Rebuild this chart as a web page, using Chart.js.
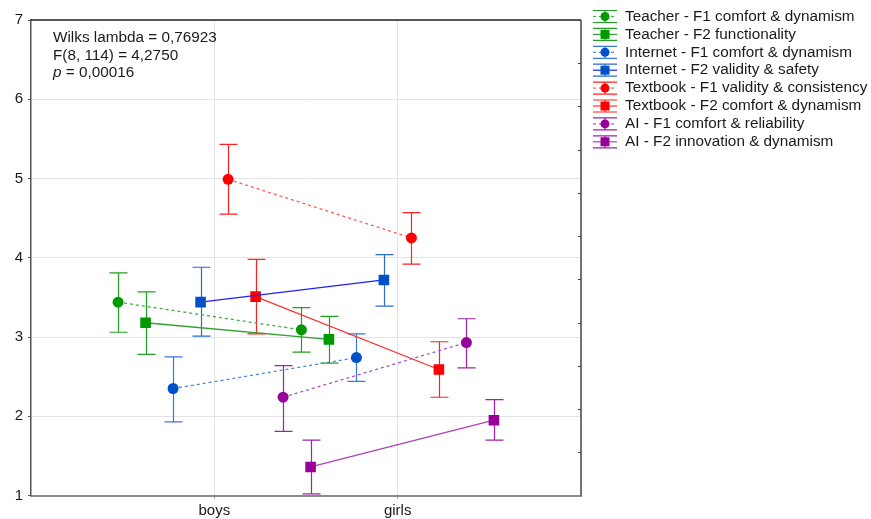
<!DOCTYPE html>
<html>
<head>
<meta charset="utf-8">
<script src="https://cdn.jsdelivr.net/npm/chart.js"></script>
<style>
  html, body { margin: 0; padding: 0; background: #fff; }
  .chart-box { width: 871px; height: 519px; position: relative; }
</style>
</head>
<body>
<div class="chart-box"><canvas id="myChart"></canvas></div>
<script>
const groups = ["boys", "girls"]
const seriesNames = [
  "Teacher - F1 comfort & dynamism",
  "Teacher - F2 functionality",
  "Internet - F1 comfort & dynamism",
  "Internet - F2 validity & safety",
  "Textbook - F1 validity & consistency",
  "Textbook - F2 comfort & dynamism",
  "AI - F1 comfort & reliability",
  "AI - F2 innovation & dynamism",
]
// means for boys / girls, with lower and upper 95% limits
const means = [
  [3.44, 3.09],
  [3.18, 2.97],
  [2.35, 2.74],
  [3.44, 3.72],
  [4.99, 4.25],
  [3.51, 2.59],
  [2.24, 2.93],
  [1.36, 1.95],
]
const lower = [
  [3.06, 2.81],
  [2.78, 2.67],
  [1.93, 2.44],
  [3.01, 3.39],
  [4.55, 3.92],
  [3.04, 2.24],
  [1.81, 2.61],
  [1.02, 1.70],
]
const upper = [
  [3.81, 3.37],
  [3.57, 3.26],
  [2.75, 3.04],
  [3.88, 4.04],
  [5.43, 4.57],
  [3.98, 2.94],
  [2.64, 3.23],
  [1.70, 2.21],
]
const yTicks = [1, 2, 3, 4, 5, 6, 7]
const statsLines = ["Wilks lambda = 0,76923", "F(8, 114) = 4,2750", "p = 0,00016"]

const markerColors = ["#009a00", "#009a00", "#0050c8", "#0050c8", "#ff0000", "#ff0000", "#990099", "#990099"]
const lineColors = ["#40b040", "#30a030", "#4a86e0", "#2020ff", "#ff5a5a", "#ff3030", "#b050c8", "#b040b8"]
const barColors = ["#20a020", "#20a020", "#3a78d8", "#2a6ad0", "#ff2020", "#ff2020", "#a020a8", "#a020a8"]

const FONT = "Arial, 'Liberation Sans', sans-serif"
const TEXT_SIZE = "15.3px "
const step = 0.15

const datasets = seriesNames.map((name, i) => {
  const isF1 = i % 2 === 0
  const off = (i - 3.5) * step
  return {
    label: name,
    data: means[i].map((v, g) => ({ x: g + 1 + off, y: v })),
    lower: lower[i],
    upper: upper[i],
    borderColor: lineColors[i],
    borderWidth: 1.3,
    borderDash: isF1 ? [3, 3] : [],
    backgroundColor: markerColors[i],
    pointBackgroundColor: markerColors[i],
    pointBorderColor: markerColors[i],
    pointBorderWidth: 0,
    pointStyle: isF1 ? "circle" : "rect",
    pointRadius: isF1 ? 5.5 : 7.5,
    barColor: barColors[i],
    showLine: true,
    fill: false,
  }
})

// whiskers behind the lines and markers
const errorBars = {
  id: "errorBars",
  beforeDatasetsDraw(chart) {
    const ctx = chart.ctx
    const ys = chart.scales.y
    chart.data.datasets.forEach((ds, i) => {
      const meta = chart.getDatasetMeta(i)
      ctx.save()
      ctx.strokeStyle = ds.barColor
      ctx.lineWidth = 1.2
      meta.data.forEach((pt, j) => {
        const x = Math.round(pt.x) + 0.5
        const top = ys.getPixelForValue(ds.upper[j])
        const bot = ys.getPixelForValue(ds.lower[j])
        ctx.beginPath()
        ctx.moveTo(x, top)
        ctx.lineTo(x, bot)
        ctx.moveTo(x - 9, top)
        ctx.lineTo(x + 9, top)
        ctx.moveTo(x - 9, bot)
        ctx.lineTo(x + 9, bot)
        ctx.stroke()
      })
      ctx.restore()
    })
  },
}

// frame, inner ticks on the right edge, stats box and legend
const decorations = {
  id: "decorations",
  afterDraw(chart) {
    const ctx = chart.ctx
    const a = chart.chartArea
    const y2 = chart.scales.y2
    ctx.save()
    ctx.strokeStyle = "#222"
    ctx.lineWidth = 1.5
    ctx.beginPath()
    ctx.moveTo(a.left, a.top)
    ctx.lineTo(a.right, a.top)
    ctx.stroke()
    ctx.strokeStyle = "#444"
    ctx.beginPath()
    ctx.moveTo(a.right, a.top)
    ctx.lineTo(a.right, a.bottom)
    ctx.stroke()
    ctx.lineWidth = 1
    for (let v = 1; v < 11; v++) {
      const y = Math.round(y2.getPixelForValue(v)) + 0.5
      ctx.beginPath()
      ctx.moveTo(a.right - 3, y)
      ctx.lineTo(a.right, y)
      ctx.stroke()
    }

    ctx.fillStyle = "#1a1a1a"
    ctx.textBaseline = "middle"
    ctx.textAlign = "left"
    ctx.font = TEXT_SIZE + FONT
    ctx.fillText(statsLines[0], 53, 38)
    ctx.fillText(statsLines[1], 53, 56)
    ctx.font = "italic " + TEXT_SIZE + FONT
    ctx.fillText(statsLines[2].charAt(0), 53, 73)
    const pw = ctx.measureText(statsLines[2].charAt(0)).width
    ctx.font = TEXT_SIZE + FONT
    ctx.fillText(statsLines[2].slice(1), 53 + pw, 73)

    chart.data.datasets.forEach((ds, i) => {
      const cy = 16.5 + i * 17.9
      const cx = 605
      ctx.strokeStyle = ds.barColor
      ctx.lineWidth = 1.2
      ctx.setLineDash([])
      ctx.beginPath()
      ctx.moveTo(cx - 12, cy - 6)
      ctx.lineTo(cx + 12, cy - 6)
      ctx.moveTo(cx - 12, cy + 6)
      ctx.lineTo(cx + 12, cy + 6)
      ctx.moveTo(cx, cy - 6)
      ctx.lineTo(cx, cy + 6)
      ctx.stroke()
      ctx.strokeStyle = ds.borderColor
      ctx.setLineDash(ds.borderDash)
      ctx.beginPath()
      ctx.moveTo(cx - 12, cy)
      ctx.lineTo(cx + 12, cy)
      ctx.stroke()
      ctx.setLineDash([])
      ctx.fillStyle = ds.pointBackgroundColor
      if (ds.pointStyle === "circle") {
        ctx.beginPath()
        ctx.arc(cx, cy, 4.5, 0, Math.PI * 2)
        ctx.fill()
      } else {
        ctx.fillRect(cx - 4.5, cy - 4.5, 9, 9)
      }
      ctx.fillStyle = "#1a1a1a"
      ctx.font = TEXT_SIZE + FONT
      ctx.fillText(ds.label, 625, cy)
    })
    ctx.restore()
  },
}

const ctx = document.getElementById("myChart")
new Chart(ctx, {
  type: "scatter",
  data: { datasets },
  plugins: [errorBars, decorations],
  options: {
    responsive: true,
    maintainAspectRatio: false,
    animation: false,
    layout: { padding: { top: 20, right: 290, left: 0, bottom: 0 } },
    plugins: {
      legend: { display: false },
      tooltip: { enabled: false },
    },
    scales: {
      x: {
        type: "linear",
        min: 0,
        max: 3,
        afterBuildTicks: (scale) => {
          scale.ticks = groups.map((g, i) => ({ value: i + 1 }))
        },
        afterFit: (scale) => {
          scale.height = 23.5
        },
        ticks: {
          color: "#1a1a1a",
          padding: 3,
          font: { size: 15, family: FONT },
          callback: (v) => groups[v - 1] || "",
        },
        grid: { color: "#e3e3e3", tickLength: 3, tickColor: "#888" },
        border: { color: "#8a8a8a", width: 2 },
      },
      y: {
        min: 1,
        max: 7,
        afterBuildTicks: (scale) => {
          scale.ticks = yTicks.map((v) => ({ value: v }))
        },
        afterFit: (scale) => {
          scale.width = 31
        },
        ticks: {
          color: "#1a1a1a",
          padding: 5,
          font: { size: 15, family: FONT },
        },
        grid: { color: "#e3e3e3", tickLength: 3, tickColor: "#555" },
        border: { color: "#555", width: 1.5 },
      },
      y2: {
        display: false,
        position: "right",
        min: 0,
        max: 11,
      },
    },
  },
})
</script>
</body>
</html>
